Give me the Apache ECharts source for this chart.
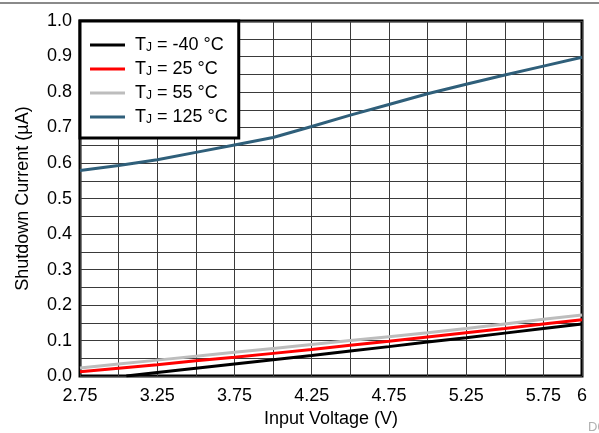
<!DOCTYPE html>
<html>
<head>
<meta charset="utf-8">
<script src="https://cdn.jsdelivr.net/npm/echarts@6/dist/echarts.min.js"></script>
<style>
  html, body { margin: 0; padding: 0; background: #fff; }
  #chart { width: 599px; height: 433px; }
</style>
</head>
<body>
<div id="chart"></div>
<script>
// Input voltage (V) sample points
const vinFull = [2.75, 3.0, 3.25, 3.5, 3.75, 4.0, 4.25, 4.5, 4.75, 5.0, 5.25, 5.5, 5.75, 6.0];
const vinCold = [3.05, 3.25, 3.5, 3.75, 4.0, 4.25, 4.5, 4.75, 5.0, 5.25, 5.5, 5.75, 6.0];

// Shutdown current (µA) per junction temperature
const iM40 = [0.0, 0.010, 0.022, 0.034, 0.046, 0.058, 0.071, 0.083, 0.096, 0.108, 0.121, 0.134, 0.147];
const i25 = [0.012, 0.022, 0.032, 0.043, 0.053, 0.064, 0.075, 0.087, 0.098, 0.110, 0.122, 0.134, 0.147, 0.159];
const i55 = [0.023, 0.034, 0.045, 0.056, 0.067, 0.078, 0.089, 0.100, 0.111, 0.122, 0.134, 0.147, 0.160, 0.172];
const i125 = [0.579, 0.593, 0.609, 0.630, 0.651, 0.672, 0.703, 0.735, 0.765, 0.795, 0.822, 0.848, 0.873, 0.898];

const seriesNames = ['-40', '25', '55', '125'];
const xTickLabels = ['2.75', '3.25', '3.75', '4.25', '4.75', '5.25', '5.75', '6'];
const yTickLabels = ['0.0', '0.1', '0.2', '0.3', '0.4', '0.5', '0.6', '0.7', '0.8', '0.9', '1.0'];

const colors = ['#000000', '#ff0000', '#bdbdbd', '#2f5f7a'];
const FONT = '"Liberation Sans", Arial, sans-serif';
const FS = 18;

function pairs(xs, ys) { return xs.map((x, i) => [x, ys[i]]); }

const dataSets = [pairs(vinCold, iM40), pairs(vinFull, i25), pairs(vinFull, i55), pairs(vinFull, i125)];

const chart = echarts.init(document.getElementById('chart'), null, { renderer: 'canvas' });

chart.setOption({
  animation: false,
  backgroundColor: '#fff',
  textStyle: { fontFamily: FONT },
  grid: {
    left: 80, right: 17, top: 21, bottom: 55,
    show: true, borderColor: '#000', borderWidth: 3, backgroundColor: 'transparent'
  },
  xAxis: {
    type: 'value', min: 2.75, max: 6, interval: 0.25,
    name: 'Input Voltage (V)', nameLocation: 'middle', nameGap: 32,
    nameTextStyle: { color: '#000', fontSize: FS, fontFamily: FONT },
    axisLine: { show: false }, axisTick: { show: false },
    axisLabel: {
      color: '#000', fontSize: FS, fontFamily: FONT, margin: 11,
      formatter: v => {
        const s = String(Math.round(v * 100) / 100);
        return xTickLabels.indexOf(s) >= 0 ? s : '';
      }
    },
    splitLine: { show: true, lineStyle: { color: '#3a3a3a', width: 1 } }
  },
  yAxis: {
    type: 'value', min: 0, max: 1, interval: 0.05,
    name: 'Shutdown Current (µA)', nameLocation: 'middle', nameGap: 48,
    nameTextStyle: { color: '#000', fontSize: FS, fontFamily: FONT },
    axisLine: { show: false }, axisTick: { show: false },
    axisLabel: {
      color: '#000', fontSize: FS, fontFamily: FONT, margin: 8,
      formatter: v => {
        const t = v.toFixed(1);
        return (Math.abs(v - parseFloat(t)) < 1e-6 && yTickLabels.indexOf(t) >= 0) ? t : '';
      }
    },
    splitLine: { show: true, lineStyle: { color: '#3a3a3a', width: 1 } }
  },
  legend: {
    left: 80, top: 21, orient: 'vertical',
    backgroundColor: '#fff', borderColor: '#000', borderWidth: 3,
    padding: [12, 11, 12, 10],
    itemGap: 3, itemWidth: 35, itemHeight: 3, icon: 'rect',
    data: seriesNames.map(n => 'TJ = ' + n + ' °C'),
    formatter: name => '{t|T}{s|J}{a|' + name.slice(2) + '}',
    textStyle: {
      color: '#000', fontSize: FS, fontFamily: FONT,
      rich: {
        t: { fontSize: FS, fontFamily: FONT, color: '#000', padding: [0, 0, 0, 5], lineHeight: 18 },
        a: { fontSize: FS, fontFamily: FONT, color: '#000', lineHeight: 18 },
        s: { fontSize: 12, fontFamily: FONT, color: '#000', verticalAlign: 'bottom', padding: [9, 0, 0, 0], lineHeight: 9 }
      }
    }
  },
  graphic: [
    { type: 'line', shape: { x1: 0, y1: 3, x2: 599, y2: 3 }, style: { stroke: '#8a8a8a', lineWidth: 2 } },
    { type: 'text', left: 588, top: 421, style: { text: 'D001', fill: '#b0b0b0', font: '13px ' + FONT } }
  ],
  series: dataSets.map((d, i) => ({
    name: 'TJ = ' + seriesNames[i] + ' °C',
    type: 'line',
    data: d,
    symbol: 'none',
    smooth: false,
    lineStyle: { color: colors[i], width: 3 },
    itemStyle: { color: colors[i] },
    z: 3
  }))
});
</script>
</body>
</html>
